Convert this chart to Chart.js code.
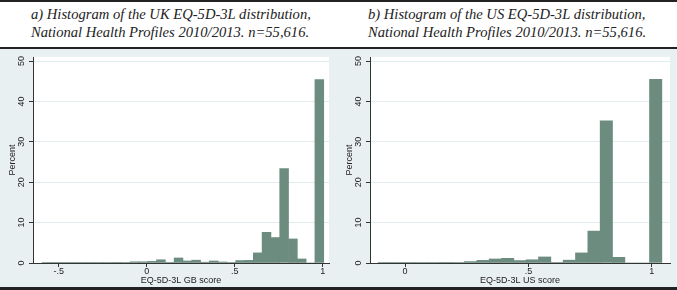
<!DOCTYPE html>
<html>
<head>
<meta charset="utf-8">
<script src="https://cdn.jsdelivr.net/npm/chart.js@4.4.0/dist/chart.umd.min.js"></script>
<style>
html,body{margin:0;padding:0;background:#fff;}
#wrap{position:relative;width:677px;height:290px;overflow:hidden;background:#fff;}
.rule{position:absolute;left:0;width:677px;background:#222;}
.ttl{position:absolute;top:5px;font:italic 14.6px/18.3px "Liberation Serif","Times New Roman",Times,serif;color:#222;white-space:nowrap;}
.panel{position:absolute;top:49px;height:238px;background:#E8F0F2;}
canvas{display:block;}
</style>
</head>
<body>
<div id="wrap">
  <div class="rule" style="top:0;height:2px"></div>
  <div class="ttl" id="t1" style="left:31px"></div>
  <div class="ttl" id="t2" style="left:368px"></div>
  <div class="rule" style="top:47px;height:2px"></div>
  <div class="panel" style="left:0;width:338px"><canvas id="c1" width="338" height="238"></canvas></div>
  <div class="panel" style="left:338px;width:339px"><canvas id="c2" width="339" height="238"></canvas></div>
  <div class="rule" style="top:287px;height:3px"></div>
</div>
<script>
// ---- data ----
const binWidth = 0.05;
const ukBinStart = -0.594;
const usBinStart = -0.109;
const ukPercent = [0.15,0.15,0.15,0.15,0.15,0.15,0.15,0.15,0.08,0.1,0.3,0.3,0.4,0.8,0.15,1.25,0.5,0.7,0.2,0.5,0.25,0.1,0.6,0.65,2.5,7.6,6.3,23.4,5.95,1.0,0,45.4];
const usPercent = [0.15,0.15,0.15,0.1,0.1,0.08,0.1,0.35,0.65,1.0,1.15,0.6,0.8,1.5,0.15,0.7,2.5,7.9,35.2,1.4,0,0,45.5];
const ukXTicks = [-0.5, 0, 0.5, 1];
const ukXTickLabels = ['-.5', '0', '.5', '1'];
const usXTicks = [0, 0.5, 1];
const usXTickLabels = ['0', '.5', '1'];
const yTicks = [0, 10, 20, 30, 40, 50];
const ukTitleLines = ['a) Histogram of the UK EQ-5D-3L distribution,', 'National Health Profiles 2010/2013. n=55,616.'];
const usTitleLines = ['b) Histogram of the US EQ-5D-3L distribution,', 'National Health Profiles 2010/2013. n=55,616.'];
const ukXTitle = 'EQ-5D-3L GB score';
const usXTitle = 'EQ-5D-3L US score';
const yTitle = 'Percent';

// ---- rendering ----
document.getElementById('t1').innerHTML = ukTitleLines.join('<br>');
document.getElementById('t2').innerHTML = usTitleLines.join('<br>');

const BAR = 'rgb(108,140,128)';
const GRID = '#E2EBEE';
const AXIS = '#333';
const FONT = '9px "Liberation Sans", Arial, sans-serif';

const txtPlugin = {
  id: 'txt',
  beforeDraw(chart) {
    const {ctx, chartArea: a} = chart;
    ctx.save();
    ctx.fillStyle = '#fff';
    ctx.fillRect(a.left, a.top, a.right - a.left, a.bottom - a.top);
    ctx.restore();
  },
  afterDraw(chart) {
    const o = chart.options.plugins.txt;
    const {ctx, chartArea: a} = chart;
    const xs = chart.scales.x, ys = chart.scales.y;
    ctx.save();
    ctx.fillStyle = '#222';
    ctx.font = FONT;
    ctx.textAlign = 'center';
    ctx.textBaseline = 'middle';
    o.xTicks.forEach((v, i) => ctx.fillText(o.xLabels[i], xs.getPixelForValue(v), a.bottom + 8.7));
    ctx.fillText(o.xTitle, (a.left + a.right) / 2, a.bottom + 17.3);
    o.yTicks.forEach(v => {
      ctx.save();
      ctx.translate(a.left - 11, ys.getPixelForValue(v));
      ctx.rotate(-Math.PI / 2);
      ctx.fillText(String(v), 0, 0);
      ctx.restore();
    });
    ctx.save();
    ctx.translate(a.left - 20.5, (a.top + a.bottom) / 2);
    ctx.rotate(-Math.PI / 2);
    ctx.fillText(o.yTitle, 0, 0);
    ctx.restore();
    ctx.restore();
  }
};

function makeChart(id, binStart, values, xMin, xMax, xTicks, xLabels, xTitle, yWidth, padRight) {
  const pts = values.map((v, k) => ({x: binStart + binWidth * (k + 0.5), y: v}));
  return new Chart(document.getElementById(id), {
    type: 'bar',
    data: {datasets: [{data: pts, backgroundColor: BAR, borderWidth: 0, barPercentage: 1, categoryPercentage: 1}]},
    options: {
      responsive: false,
      devicePixelRatio: 1,
      animation: false,
      layout: {padding: {left: 0, top: 8, right: padRight, bottom: 0}},
      plugins: {legend: {display: false}, tooltip: {enabled: false},
        txt: {xTicks, xLabels, xTitle, yTitle, yTicks}},
      scales: {
        x: {
          type: 'linear', min: xMin, max: xMax, offset: false,
          afterBuildTicks: s => { s.ticks = xTicks.map(v => ({value: v})); },
          afterFit: s => { s.height = 24; },
          ticks: {display: false},
          grid: {offset: false, drawOnChartArea: false, drawTicks: true, tickLength: 4, tickColor: AXIS, tickWidth: 1},
          border: {display: true, color: AXIS, width: 1}
        },
        y: {
          type: 'linear', min: 0, max: 51,
          afterBuildTicks: s => { s.ticks = yTicks.map(v => ({value: v})); },
          afterFit: s => { s.width = yWidth; },
          ticks: {display: false},
          grid: {color: c => (c.tick && c.tick.value === 0) ? 'rgba(0,0,0,0)' : GRID, lineWidth: 1,
                 drawTicks: true, tickLength: 4, tickColor: AXIS, tickWidth: 1},
          border: {display: true, color: AXIS, width: 1}
        }
      }
    },
    plugins: [txtPlugin]
  });
}

makeChart('c1', ukBinStart, ukPercent, -0.646, 1.036, ukXTicks, ukXTickLabels, ukXTitle, 33, 9);
makeChart('c2', usBinStart, usPercent, -0.142, 1.074, usXTicks, usXTickLabels, usXTitle, 32, 7);
</script>
</body>
</html>
